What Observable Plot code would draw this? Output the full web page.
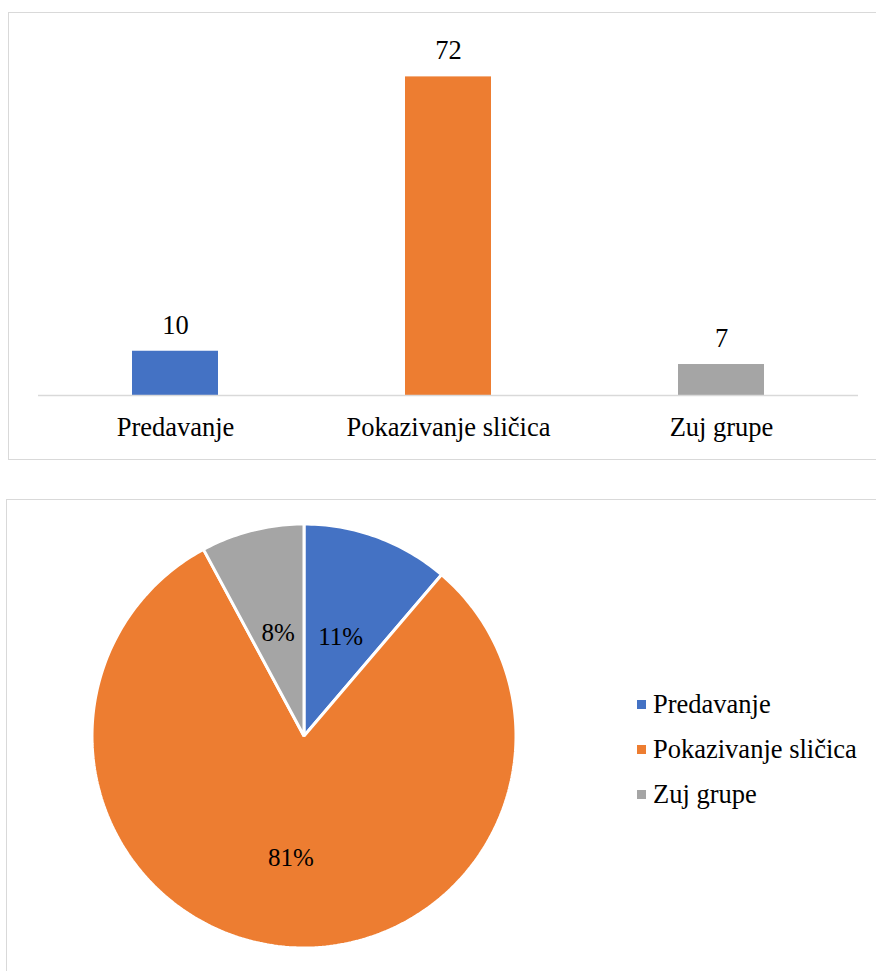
<!DOCTYPE html>
<html>
<head>
<meta charset="utf-8">
<script src="https://cdn.jsdelivr.net/npm/d3@7"></script>
<script src="https://cdn.jsdelivr.net/npm/@observablehq/plot@0.6"></script>
<style>
  html, body { margin: 0; padding: 0; background: white; }
  body { width: 876px; height: 971px; position: relative; overflow: hidden; font-family: "Liberation Serif", "Times New Roman", serif; color: #000; }
  .box { position: absolute; border: 1.5px solid #d9d9d9; box-sizing: border-box; }
  .layer { position: absolute; left: 0; }
  #legend { position: absolute; left: 637px; top: 682px; }
  .row { display: flex; align-items: center; height: 45px; font-size: 26.5px; white-space: nowrap; }
  .sw { width: 9px; height: 9px; margin-right: 7px; }
</style>
</head>
<body>
<div class="box" style="left:8px; top:12px; width:900px; height:448px;"></div>
<div class="box" style="left:6px; top:499px; width:900px; height:520px;"></div>
<div id="bar" class="layer" style="top:0px;"></div>
<div id="pie" class="layer" style="top:497px;"></div>
<div id="legend"></div>
<script>
const categories = ["Predavanje", "Pokazivanje sličica", "Zuj grupe"];
const counts = [10, 72, 7];
const colors = ["#4472C4", "#ED7D31", "#A5A5A5"];

const FONT = "'Liberation Serif', 'Times New Roman', serif";
const rows = categories.map((c, i) => ({cat: c, value: counts[i]}));

// Bar chart
const bar = Plot.plot({
  width: 876,
  height: 460,
  marginTop: 41,
  marginBottom: 65,
  marginLeft: 38,
  marginRight: 18,
  style: {background: "none", fontFamily: FONT, fontSize: "26.5px", color: "#000", overflow: "visible"},
  x: {domain: categories, paddingInner: 0.685, paddingOuter: 0.3425, tickSize: 0, tickPadding: 22, label: null},
  y: {domain: [0, 80], axis: null},
  color: {domain: categories, range: colors},
  marks: [
    Plot.barY(rows, {x: "cat", y: "value", fill: "cat"}),
    Plot.ruleY([0], {stroke: "#d9d9d9", strokeWidth: 1.5}),
    Plot.text(rows, {x: "cat", y: "value", text: d => String(d.value), dy: -26, fontSize: 26.5, fill: "#000"})
  ]
});
document.getElementById("bar").appendChild(bar);

// Pie chart
const total = d3.sum(counts);
const arcs = d3.pie().sort(null)(counts);
const pts = [];
arcs.forEach((a, i) => {
  const cat = categories[i];
  pts.push({cat, x: 0, y: 0});
  const n = Math.max(4, Math.ceil((a.endAngle - a.startAngle) / (Math.PI * 2) * 360));
  for (let k = 0; k <= n; k++) {
    const t = a.startAngle + (a.endAngle - a.startAngle) * k / n;
    pts.push({cat, x: Math.sin(t), y: Math.cos(t)});
  }
});
const labels = arcs.map((a, i) => {
  const mid = (a.startAngle + a.endAngle) / 2;
  const share = counts[i] / total;
  const f = share > 0.5 ? 0.58 : 0.5;
  return {x: f * Math.sin(mid), y: f * Math.cos(mid), text: Math.round(share * 100) + "%"};
});

const pie = Plot.plot({
  width: 876,
  height: 474,
  marginTop: 26.5,
  marginBottom: 23.5,
  marginLeft: 91.5,
  marginRight: 360.5,
  style: {background: "none", fontFamily: FONT, fontSize: "25px", color: "#000", overflow: "visible"},
  x: {domain: [-1, 1], axis: null},
  y: {domain: [-1, 1], axis: null},
  color: {domain: categories, range: colors},
  marks: [
    Plot.line(pts, {x: "x", y: "y", z: "cat", fill: "cat", stroke: "white", strokeWidth: 3, strokeLinejoin: "miter", curve: "linear-closed"}),
    Plot.text(labels, {x: "x", y: "y", text: "text", fontSize: 25, fill: "#000"})
  ]
});
document.getElementById("pie").appendChild(pie);

// Legend
const legend = document.getElementById("legend");
categories.forEach((c, i) => {
  const row = document.createElement("div");
  row.className = "row";
  const sw = document.createElement("div");
  sw.className = "sw";
  sw.style.background = colors[i];
  const tx = document.createElement("span");
  tx.textContent = c;
  row.appendChild(sw);
  row.appendChild(tx);
  legend.appendChild(row);
});
</script>
</body>
</html>
